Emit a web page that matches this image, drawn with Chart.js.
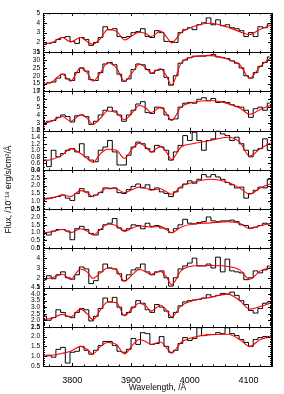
<!DOCTYPE html>
<html>
<head>
<meta charset="utf-8">
<script src="https://cdn.jsdelivr.net/npm/chart.js@4/dist/chart.umd.min.js"></script>
<style>
  html, body { margin: 0; padding: 0; background: #fff; }
</style>
</head>
<body>
<canvas id="spec" width="284" height="394"></canvas>
<script>
// observed spectra (binned), one array per panel, top to bottom
const wave = [3752, 3760, 3768, 3776, 3784, 3792, 3800, 3808, 3816, 3824, 3832, 3840, 3848, 3856, 3864, 3872, 3880,
  3888, 3896, 3904, 3912, 3920, 3928, 3936, 3944, 3952, 3960, 3968, 3976, 3984, 3992, 4000, 4008, 4016, 4024, 4032,
  4040, 4048, 4056, 4064, 4072, 4080, 4088, 4096, 4104, 4112, 4120, 4128, 4136];

const flux1 = [1.8, 1.9, 2.0, 2.3, 2.5, 2.6, 2.1, 1.9, 2.5, 2.3, 1.7, 2.0, 2.5, 3.6, 3.3, 3.4, 2.6, 2.5, 2.6, 3.0, 3.1,
  3.4, 2.6, 2.5, 3.2, 3.0, 2.1, 2.1, 2.0, 3.0, 3.3, 3.5, 3.3, 3.8, 4.0, 4.5, 3.8, 4.3, 3.7, 3.8, 3.5, 3.4, 3.2, 2.6,
  3.0, 2.6, 3.6, 3.5, 3.9];
const flux2 = [14.5, 15.5, 16, 18.5, 21, 18, 17, 22, 25, 23, 17.5, 17, 22, 27.5, 28.5, 27, 21, 16.5, 18, 24, 27.5, 27,
  24, 21.5, 23.5, 24, 19, 14, 20, 28, 30, 31.5, 32.5, 32.5, 32.5, 33, 33.5, 32, 31.5, 31, 29.5, 28, 25, 20, 18.5, 22,
  26, 28.5, 32];
const flux3 = [2.8, 3.2, 3.3, 3.7, 4.0, 3.8, 3.1, 3.9, 4.0, 3.8, 2.8, 3.2, 4.0, 4.6, 5.0, 4.5, 4.0, 3.2, 4.0, 4.6, 5.4,
  5.7, 4.3, 4.2, 5.0, 4.9, 4.0, 3.4, 3.5, 5.0, 5.5, 5.6, 5.5, 6.0, 6.2, 5.8, 6.1, 5.6, 5.7, 5.6, 5.3, 5.1, 5.0, 4.6,
  3.7, 4.8, 5.0, 4.6, 5.5];
const flux4 = [0.7, 0.5, 1.0, 0.8, 0.9, 1.0, 1.05, 0.95, 1.2, 0.8, 0.7, 0.65, 1.0, 1.1, 1.3, 0.95, 0.55, 0.55, 0.85,
  1.1, 1.25, 1.2, 1.05, 0.95, 1.15, 1.1, 1.0, 0.7, 0.95, 1.15, 1.45, 1.3, 1.55, 1.3, 1.0, 1.3, 1.35, 1.6, 1.5, 1.45,
  1.3, 1.4, 1.2, 1.0, 0.8, 1.0, 1.05, 1.35, 1.0];
const flux5 = [1.15, 1.2, 1.25, 1.3, 1.4, 1.2, 1.05, 1.5, 1.8, 1.6, 1.3, 1.4, 1.55, 1.85, 1.8, 1.85, 1.55, 1.5, 1.75,
  1.95, 2.1, 1.85, 2.05, 1.75, 1.85, 1.6, 1.5, 1.3, 1.6, 1.85, 2.1, 2.3, 2.15, 2.4, 2.7, 2.55, 2.7, 2.55, 2.4, 2.2,
  2.05, 1.85, 1.9, 1.2, 1.5, 1.7, 1.9, 1.85, 2.4];
const flux6 = [1.0, 0.85, 1.1, 1.2, 1.2, 1.1, 0.55, 1.25, 1.4, 1.2, 0.95, 0.85, 1.2, 1.5, 1.6, 1.9, 1.3, 1.15, 1.25,
  1.5, 1.45, 1.25, 1.6, 1.4, 1.45, 1.3, 1.25, 1.0, 1.25, 1.5, 1.85, 1.6, 1.55, 1.65, 1.7, 2.0, 1.75, 1.7, 1.75, 1.75,
  1.8, 1.7, 1.5, 1.45, 1.3, 1.35, 1.45, 1.6, 1.55];
const flux7 = [1.8, 2.2, 1.9, 2.3, 2.6, 2.0, 1.85, 2.3, 3.1, 2.9, 1.4, 1.7, 2.6, 3.4, 3.0, 2.9, 2.4, 1.7, 2.3, 2.8, 3.0,
  3.4, 2.6, 2.3, 2.6, 2.7, 2.0, 1.15, 2.0, 2.9, 3.2, 3.5, 4.0, 3.2, 3.2, 3.4, 3.0, 4.1, 2.6, 3.9, 2.7, 2.6, 2.5, 1.8,
  2.0, 2.7, 2.5, 2.8, 3.2];
const flux8 = [2.3, 2.0, 2.2, 2.8, 2.6, 2.3, 2.2, 2.6, 2.9, 2.8, 1.95, 2.3, 2.9, 3.7, 3.4, 3.75, 3.0, 2.4, 2.6, 3.0,
  3.5, 3.3, 2.8, 2.6, 3.2, 3.0, 2.7, 2.2, 2.6, 3.1, 3.4, 3.5, 3.55, 3.6, 3.7, 3.95, 3.8, 3.9, 4.05, 4.0, 4.15, 3.9,
  3.5, 3.2, 2.75, 2.55, 2.9, 3.3, 3.4];
const flux9 = [1.0, 1.05, 0.95, 1.35, 1.45, 0.65, 1.2, 1.25, 1.5, 1.3, 1.1, 1.3, 1.55, 1.75, 1.75, 1.55, 1.25, 1.2,
  1.35, 1.9, 1.6, 2.2, 2.15, 1.6, 1.65, 2.0, 1.5, 1.2, 1.3, 1.65, 1.95, 1.8, 1.9, 2.45, 2.05, 2.1, 2.1, 2.2, 2.15,
  2.45, 2.15, 2.05, 1.85, 1.7, 1.5, 1.85, 1.95, 2.0, 2.0];

// model fits (red)
const modelWave = [3750, 3765, 3783, 3797, 3814, 3825, 3835, 3848, 3860, 3875, 3889, 3902, 3914, 3925, 3934, 3950,
  3960, 3969, 3985, 4005, 4035, 4065, 4085, 4102, 4120, 4140];

const model1 = [1.8, 2.0, 2.5, 2.05, 2.5, 2.1, 1.8, 2.4, 3.3, 3.15, 2.25, 2.7, 3.05, 2.9, 2.6, 3.15, 2.6, 1.95, 3.0,
  3.6, 3.95, 3.55, 3.1, 2.8, 3.35, 3.8];
const model2 = [14.5, 16, 21, 16.5, 25, 22, 16.5, 22, 28.3, 25, 16.5, 22, 27.3, 25, 21.7, 24.5, 20, 14, 28, 32, 32.8,
  30.5, 27, 18.5, 26, 32];
const model3 = [2.95, 3.2, 3.8, 3.2, 4.0, 3.6, 2.8, 3.6, 4.5, 4.3, 3.4, 4.3, 5.2, 4.9, 4.3, 5.0, 4.2, 3.3, 5.0, 5.6,
  5.85, 5.45, 4.9, 4.1, 4.7, 5.3];
const model4 = [0.68, 0.72, 0.86, 1.05, 0.9, 0.75, 0.63, 0.9, 1.03, 1.0, 0.75, 1.05, 1.22, 1.1, 0.95, 1.12, 0.95,
  0.72, 1.1, 1.2, 1.3, 1.4, 1.25, 0.82, 1.05, 1.25];
const model5 = [1.12, 1.2, 1.4, 1.3, 1.68, 1.55, 1.3, 1.6, 1.85, 1.8, 1.55, 1.75, 1.9, 1.85, 1.7, 1.8, 1.6, 1.45, 1.95,
  2.2, 2.4, 2.2, 1.85, 1.45, 1.85, 2.15];
const model6 = [0.98, 1.05, 1.2, 1.0, 1.25, 1.1, 0.85, 1.2, 1.55, 1.45, 1.08, 1.3, 1.42, 1.4, 1.35, 1.4, 1.2, 1.0,
  1.35, 1.55, 1.62, 1.7, 1.6, 1.25, 1.45, 1.6];
const model7 = [1.85, 2.0, 2.35, 1.85, 2.9, 2.6, 1.95, 2.5, 3.0, 2.8, 1.65, 2.3, 2.85, 2.6, 2.35, 2.65, 2.1, 1.3, 2.7,
  3.2, 3.25, 3.15, 2.8, 1.85, 2.7, 3.05];
const model8 = [2.05, 2.15, 2.45, 2.25, 2.85, 2.5, 2.05, 2.8, 3.4, 3.35, 2.35, 2.9, 3.3, 3.1, 2.7, 3.15, 2.8, 2.25,
  3.1, 3.5, 3.75, 4.0, 3.5, 2.85, 3.05, 3.35];
const model9 = [0.98, 1.05, 1.15, 1.25, 1.5, 1.35, 1.12, 1.5, 1.7, 1.6, 1.12, 1.55, 1.85, 1.75, 1.6, 1.72, 1.45, 1.15,
  1.7, 1.95, 2.1, 2.12, 1.85, 1.5, 1.85, 2.0];

// axis ranges and tick labels
const xTicks = [3800, 3900, 4000, 4100];
const yMin = [1, 10, 2, 0.4, 0.5, 0.0, 1, 1.5, 0.5];
const yMax = [5, 35, 7, 1.6, 3.0, 2.5, 5, 4.5, 2.5];
const yStep = [1, 5, 1, 0.2, 0.5, 0.5, 1, 0.5, 0.5];

const fluxes = [flux1, flux2, flux3, flux4, flux5, flux6, flux7, flux8, flux9];
const models = [model1, model2, model3, model4, model5, model6, model7, model8, model9];

const font = "'Liberation Sans', Arial, sans-serif";

const datasets = [];
const scales = {
  x: {
    type: 'linear', position: 'bottom', min: 3750, max: 4140,
    afterFit: (s) => { s.height = 28; },
    afterBuildTicks: (s) => { s.ticks = xTicks.map((v) => ({ value: v })); },
    grid: { display: false },
    border: { color: '#000', width: 1 },
    ticks: { autoSkip: false, color: '#000', padding: 1, maxRotation: 0,
      font: { family: font, size: 9 }, callback: (v) => String(v) },
    title: { display: true, text: 'Wavelength, /Å', color: '#000', padding: { top: 0, bottom: 1 },
      font: { family: font, size: 8.5 } }
  }
};

// define bottom panel first so the top panel ends up on top of the stack
for (let i = 8; i >= 0; i--) {
  const id = 'y' + i;
  const dec = yStep[i] < 1 ? 1 : 0;
  scales[id] = {
    type: 'linear', position: 'left', stack: 'panels', stackWeight: 1,
    min: yMin[i], max: yMax[i],
    afterFit: (s) => { s.width = 43; },
    grid: { drawOnChartArea: false, drawTicks: false },
    border: { color: '#000', width: 1 },
    ticks: { stepSize: yStep[i], autoSkip: false, color: '#000', padding: 3,
      font: { family: font, size: 6.5 }, callback: (v) => Number(v).toFixed(dec) },
    title: { display: i === 4, text: 'Flux, /10⁻¹⁸ erg/s/cm²/Å', color: '#000',
      padding: { top: 4, bottom: 0 }, font: { family: font, size: 8.5 } }
  };
  datasets.push({
    data: wave.map((w, k) => ({ x: w, y: fluxes[i][k] })),
    yAxisID: id, borderColor: '#000', borderWidth: 1, stepped: 'middle',
    pointRadius: 0, fill: false, order: 1
  });
  datasets.push({
    data: modelWave.map((w, k) => ({ x: w, y: models[i][k] })),
    yAxisID: id, borderColor: '#ff0000', borderWidth: 1.1, tension: 0.4,
    cubicInterpolationMode: 'monotone', pointRadius: 0, fill: false, order: 0
  });
}

// IDL-like frame: box per panel with inward ticks on all four sides
const frames = {
  id: 'frames',
  afterDatasetsDraw(chart) {
    const ctx = chart.ctx;
    const area = chart.chartArea;
    const xs = chart.scales.x;
    ctx.save();
    ctx.strokeStyle = '#000';
    ctx.lineWidth = 1;
    for (let i = 0; i < 9; i++) {
      const s = chart.scales['y' + i];
      ctx.strokeRect(area.left + 0.5, Math.round(s.top) + 0.5, area.width - 1, Math.round(s.bottom) - Math.round(s.top));
      ctx.beginPath();
      // y ticks
      const nMinor = yStep[i] === 0.2 ? 2 : 5;
      const minor = yStep[i] / nMinor;
      for (let v = yMin[i]; v <= yMax[i] + 1e-9; v += minor) {
        const k = Math.round((v - yMin[i]) / minor);
        const len = k % nMinor === 0 ? 4 : 2;
        const py = Math.round(s.getPixelForValue(v)) + 0.5;
        ctx.moveTo(area.left, py); ctx.lineTo(area.left + len, py);
        ctx.moveTo(area.right, py); ctx.lineTo(area.right - len, py);
      }
      // x ticks
      for (let w = 3760; w <= 4140; w += 20) {
        const len = w % 100 === 0 ? 3 : 1.5;
        const px = Math.round(xs.getPixelForValue(w)) + 0.5;
        ctx.moveTo(px, s.top); ctx.lineTo(px, s.top + len);
        ctx.moveTo(px, s.bottom); ctx.lineTo(px, s.bottom - len);
      }
      ctx.stroke();
    }
    // heavier right-hand axis
    ctx.lineWidth = 2;
    ctx.beginPath();
    ctx.moveTo(area.right, area.top);
    ctx.lineTo(area.right, area.bottom);
    ctx.stroke();
    ctx.restore();
  }
};

new Chart(document.getElementById('spec'), {
  type: 'line',
  data: { datasets },
  options: {
    responsive: false,
    animation: false,
    layout: { padding: { top: 13, right: 12, left: 0, bottom: 0 } },
    plugins: { legend: { display: false }, tooltip: { enabled: false } },
    scales
  },
  plugins: [frames]
});
</script>
</body>
</html>
